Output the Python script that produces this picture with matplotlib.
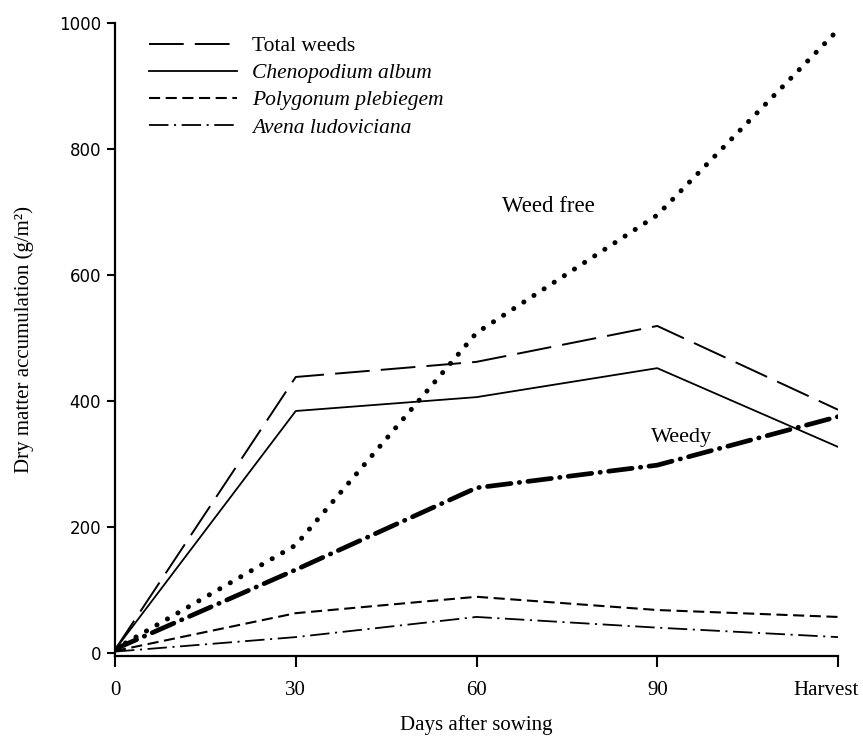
import matplotlib
matplotlib.use("Agg")
import matplotlib.pyplot as plt
import matplotlib.transforms as mtransforms
from matplotlib.lines import Line2D

plt.rcParams['lines.scale_dashes'] = False

days = [0, 30, 60, 90, 120]
xtick_labels = ['0', '30', '60', '90', 'Harvest']

total_weeds = [5, 438, 462, 519, 386]
chenopodium = [5, 384, 406, 452, 327]
polygonum = [3, 63, 89, 68, 57]
avena = [2, 25, 57, 40, 25]
weed_free = [6, 171, 508, 695, 989]
weedy = [6, 132, 262, 298, 375]

fig = plt.figure(figsize=(8.63, 7.39), dpi=100)
ax = fig.add_axes([115/863, 83/739, (838-115)/863, (656-23)/739])

serif = 'Liberation Serif'

ax.plot(days, total_weeds, color='black', lw=1.4, dashes=(25, 8))
ax.plot(days, chenopodium, color='black', lw=1.3)
ax.plot(days, polygonum, color='black', lw=1.5, dashes=(8, 4))
ax.plot(days, avena, color='black', lw=1.3, dashes=(14, 4, 1.5, 4))
ax.plot(days, weed_free, color='black', lw=3.6, linestyle=(0, (0.1, 8.6)),
        dash_capstyle='round')
ax.plot(days, weedy, color='black', lw=3.4, linestyle=(0, (17, 6, 0.3, 6)),
        dash_capstyle='round')

ax.text(72, 708, 'Weed free', fontsize=16.5, family=serif, ha='center', va='center')
ax.text(94, 342, 'Weedy', fontsize=16, family=serif, ha='center', va='center')

ax.set_xlim(0, 120)
ax.set_ylim(-5, 1000)
ax.set_xticks(days)
ax.set_xticklabels(xtick_labels, family=serif, fontsize=15)
ax.set_yticks([0, 200, 400, 600, 800, 1000])
ax.set_yticklabels(['0', '200', '400', '600', '800', '1000'], family='DejaVu Sans', fontsize=12)

for s in ['top', 'right']:
    ax.spines[s].set_visible(False)
for s in ['left', 'bottom']:
    ax.spines[s].set_linewidth(1.6)
ax.tick_params(axis='y', direction='out', length=6, width=1.5, pad=4)
ax.tick_params(axis='x', direction='out', length=8, width=1.5, pad=10)

harv = ax.get_xticklabels()[-1]
harv.set_transform(harv.get_transform() + mtransforms.ScaledTranslation(-0.12, 0, fig.dpi_scale_trans))

ax.set_xlabel('Days after sowing', family=serif, fontsize=15, labelpad=11)
ax.set_ylabel('Dry matter accumulation (g/m²)', family=serif, fontsize=15, labelpad=18)

handles = [
    Line2D([], [], color='black', lw=1.4, dashes=(25, 8)),
    Line2D([], [], color='black', lw=1.3),
    Line2D([], [], color='black', lw=1.5, dashes=(8, 4)),
    Line2D([], [], color='black', lw=1.3, dashes=(14, 4, 1.5, 4)),
]
labels = ['Total weeds', 'Chenopodium album', 'Polygonum plebiegem', 'Avena ludoviciana']
leg = ax.legend(handles, labels, loc='upper left', bbox_to_anchor=(0.035, 0.993),
                frameon=False, handlelength=4.1, handletextpad=0.7, labelspacing=0.33,
                prop={'family': serif, 'size': 15.5}, borderaxespad=0)
for t in leg.get_texts()[1:]:
    t.set_style('italic')

fig.savefig('out.png', dpi=100)
